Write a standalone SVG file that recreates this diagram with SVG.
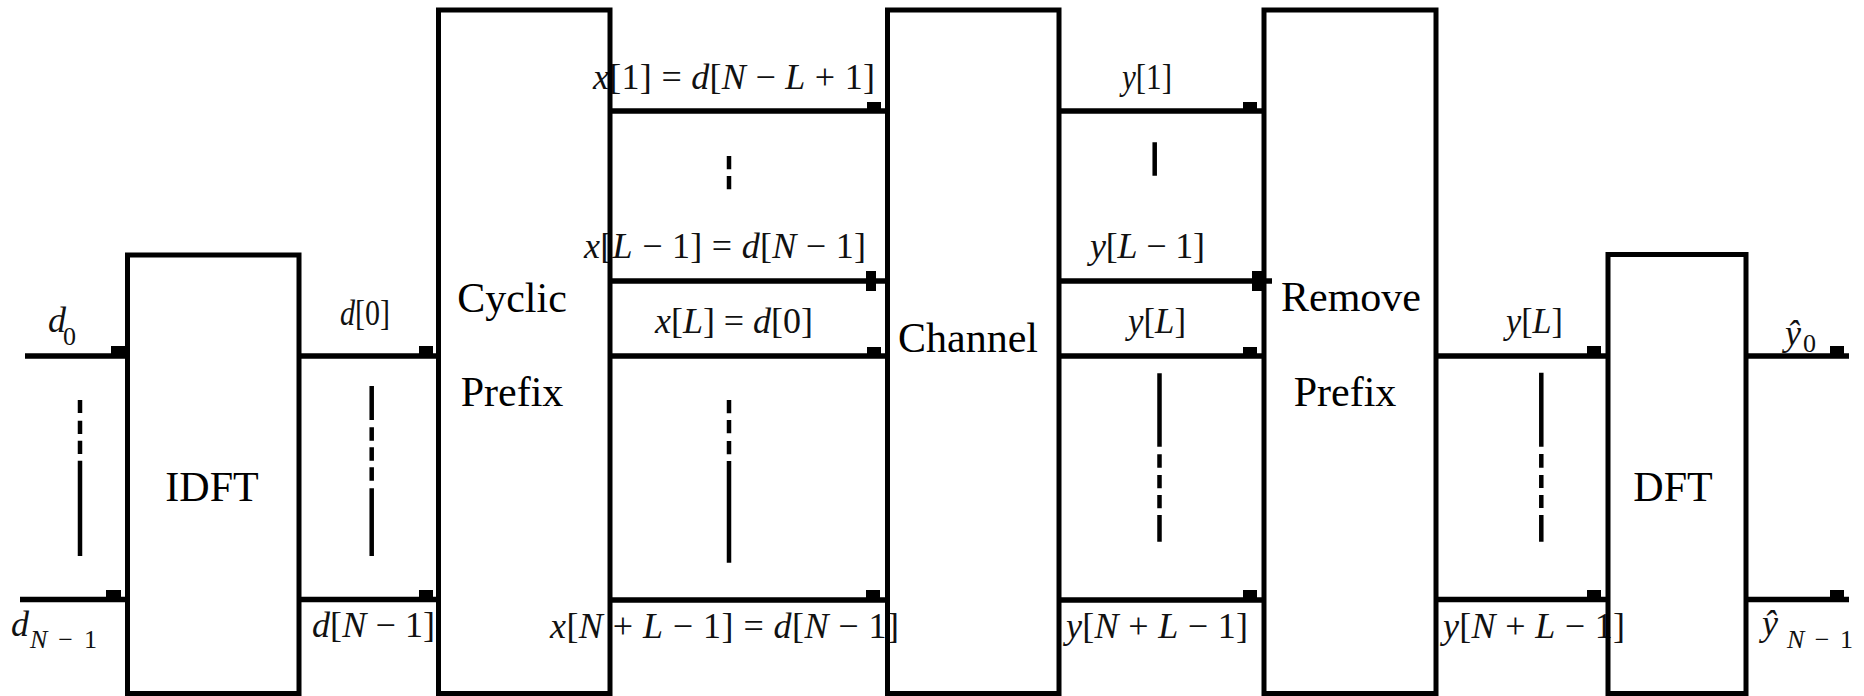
<svg xmlns="http://www.w3.org/2000/svg" width="1864" height="696" viewBox="0 0 1864 696">
<style>
.box{fill:none;stroke:#000;stroke-width:5}
.ln{fill:none;stroke:#000;stroke-width:5.5}
.dv{fill:none;stroke:#000;stroke-width:4.5}
.ah{fill:#000}
.blk{font-family:"Liberation Serif","Times New Roman",serif;font-size:42px;fill:#000;text-anchor:middle}
.lb{font-family:"Liberation Serif","Times New Roman",serif;font-size:36px;fill:#111}
.sb{font-family:"Liberation Serif","Times New Roman",serif;font-size:26px;fill:#111}
.i{font-style:italic}
</style>
<rect width="1864" height="696" fill="#fff"/>
<g id="connectors">
<path class="ln" d="M25 356H127.5 M20 599.5H127.5 M299 356H438.5 M299 599.5H438.5 M610 111H887.5 M610 281H887.5 M610 356H887.5 M610 600H887.5 M1059 111H1264 M1059 281H1272 M1059 356H1264 M1059 600H1264 M1436 356H1608 M1436 599.5H1608 M1746 356H1849 M1746 599.5H1849"/>
<path class="dv" d="M80 400V413 M80 420.7V434 M80 440.7V454 M80 460.7V556 M371.7 386V420 M371.7 427.3V440.7 M371.7 447.3V460.7 M371.7 467.3V480.7 M371.7 488.3V556 M729 156V169.3 M729 176V189.3 M729 400V413.3 M729 420V433.3 M729 441V454.3 M729 461V562.7 M1154.7 142.3V175.7 M1159.5 373.3V446.7 M1159.5 454.3V467.7 M1159.5 475V488.3 M1159.5 495V508.3 M1159.5 515V541.7 M1541.3 372.7V446.7 M1541.3 454V467.7 M1541.3 475V488 M1541.3 495V508 M1541.3 515V541.7"/>
<rect class="ah" x="111" y="346" width="14" height="10"/>
<rect class="ah" x="106" y="590" width="15" height="10"/>
<rect class="ah" x="419" y="346" width="14" height="10"/>
<rect class="ah" x="419" y="590" width="14" height="10"/>
<rect class="ah" x="867" y="102" width="14" height="9"/>
<rect class="ah" x="866" y="271" width="10" height="20"/>
<rect class="ah" x="867" y="347" width="14" height="9"/>
<rect class="ah" x="866" y="590" width="14" height="10"/>
<rect class="ah" x="1243" y="102" width="14" height="9"/>
<rect class="ah" x="1252" y="271" width="14" height="20"/>
<rect class="ah" x="1243" y="347" width="14" height="9"/>
<rect class="ah" x="1243" y="590" width="14" height="10"/>
<rect class="ah" x="1587" y="346" width="14" height="10"/>
<rect class="ah" x="1587" y="590" width="14" height="10"/>
<rect class="ah" x="1830" y="346" width="14" height="10"/>
<rect class="ah" x="1830" y="590" width="14" height="10"/>
<text class="lb i" x="48" y="332">d</text>
<text class="sb" x="63" y="345">0</text>
<text class="lb i" x="11" y="636">d</text>
<text class="sb" x="30" y="648" textLength="67" lengthAdjust="spacing"><tspan class="i">N</tspan> − 1</text>
<text class="lb" x="340" y="325" textLength="50" lengthAdjust="spacingAndGlyphs"><tspan class="i">d</tspan>[0]</text>
<text class="lb" x="312" y="637" textLength="123" lengthAdjust="spacing"><tspan class="i">d</tspan>[<tspan class="i">N</tspan> − 1]</text>
<text class="lb" x="593" y="89" textLength="282" lengthAdjust="spacing"><tspan class="i">x</tspan>[1] = <tspan class="i">d</tspan>[<tspan class="i">N</tspan> − <tspan class="i">L</tspan> + 1]</text>
<text class="lb" x="584" y="258" textLength="282" lengthAdjust="spacing"><tspan class="i">x</tspan>[<tspan class="i">L</tspan> − 1] = <tspan class="i">d</tspan>[<tspan class="i">N</tspan> − 1]</text>
<text class="lb" x="655" y="333" textLength="158" lengthAdjust="spacing"><tspan class="i">x</tspan>[<tspan class="i">L</tspan>] = <tspan class="i">d</tspan>[0]</text>
<text class="lb" x="550" y="638" textLength="349" lengthAdjust="spacing"><tspan class="i">x</tspan>[<tspan class="i">N</tspan> + <tspan class="i">L</tspan> − 1] = <tspan class="i">d</tspan>[<tspan class="i">N</tspan> − 1]</text>
<text class="lb" x="1122" y="89" textLength="50" lengthAdjust="spacingAndGlyphs"><tspan class="i">y</tspan>[1]</text>
<text class="lb" x="1090" y="258" textLength="115" lengthAdjust="spacing"><tspan class="i">y</tspan>[<tspan class="i">L</tspan> − 1]</text>
<text class="lb" x="1128" y="333" textLength="58" lengthAdjust="spacingAndGlyphs"><tspan class="i">y</tspan>[<tspan class="i">L</tspan>]</text>
<text class="lb" x="1066" y="638" textLength="182" lengthAdjust="spacing"><tspan class="i">y</tspan>[<tspan class="i">N</tspan> + <tspan class="i">L</tspan> − 1]</text>
<text class="lb" x="1506" y="333" textLength="57" lengthAdjust="spacingAndGlyphs"><tspan class="i">y</tspan>[<tspan class="i">L</tspan>]</text>
<text class="lb" x="1443" y="638" textLength="182" lengthAdjust="spacing"><tspan class="i">y</tspan>[<tspan class="i">N</tspan> + <tspan class="i">L</tspan> − 1]</text>
<text class="lb i" x="1785" y="345">ŷ</text>
<text class="sb" x="1803" y="352">0</text>
<text class="lb i" x="1762" y="635">ŷ</text>
<text class="sb" x="1787" y="648" textLength="66" lengthAdjust="spacing"><tspan class="i">N</tspan> − 1</text>
</g>
<g id="idft">
<rect class="box" x="127.5" y="255" width="171.5" height="438.5"/>
<text class="blk" x="212" y="501">IDFT</text>
</g>
<g id="cyclic-prefix">
<rect class="box" x="438.5" y="10" width="171.5" height="683.5"/>
<text class="blk" x="512" y="312">Cyclic</text>
<text class="blk" x="512" y="406">Prefix</text>
</g>
<g id="channel">
<rect class="box" x="887.5" y="10" width="171.5" height="683.5"/>
<text class="blk" x="968" y="352">Channel</text>
</g>
<g id="remove-prefix">
<rect class="box" x="1264" y="10" width="172" height="683.5"/>
<text class="blk" x="1351" y="311">Remove</text>
<text class="blk" x="1345" y="406">Prefix</text>
</g>
<g id="dft">
<rect class="box" x="1608" y="254.5" width="138" height="439"/>
<text class="blk" x="1673" y="501">DFT</text>
</g>
</svg>
